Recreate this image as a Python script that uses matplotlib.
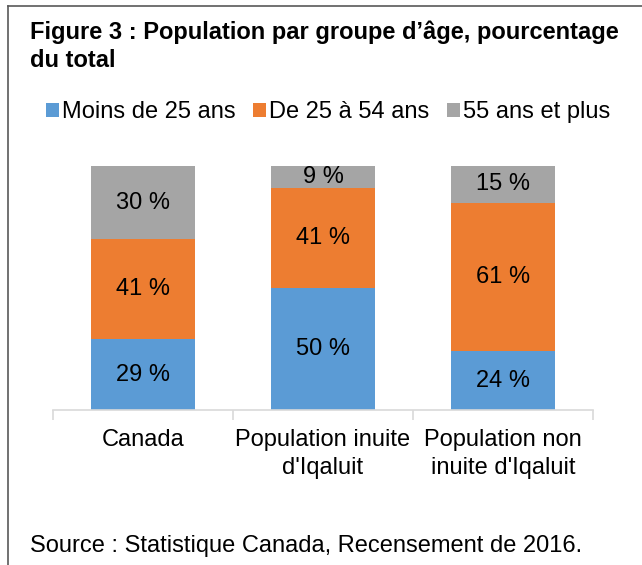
import matplotlib
matplotlib.use("Agg")
import matplotlib.pyplot as plt
from matplotlib.lines import Line2D
from matplotlib.patches import Patch

categories = ["Canada", "Population inuite\nd'Iqaluit", "Population non\ninuite d'Iqaluit"]
series_names = ["Moins de 25 ans", "De 25 à 54 ans", "55 ans et plus"]
moins_25 = [29, 50, 24]
de_25_54 = [41, 41, 61]
plus_55 = [30, 9, 15]
colors = ["#5B9BD5", "#ED7D31", "#A5A5A5"]

plt.rcParams['font.family'] = ['Liberation Sans', 'DejaVu Sans']
FS = 17

fig = plt.figure(figsize=(6.42, 5.65), dpi=100)
ax = fig.add_axes([53/642, 1-410/565, 540/642, 244/565])

x = list(range(len(categories)))
bottoms = [0]*len(categories)
for vals, col in zip([moins_25, de_25_54, plus_55], colors):
    ax.bar(x, vals, width=0.58, bottom=bottoms, color=col, zorder=2)
    for xi, v, b in zip(x, vals, bottoms):
        ax.text(xi, b + v/2, f"{v} %", ha='center', va='center', fontsize=FS, color='black')
    bottoms = [b + v for b, v in zip(bottoms, vals)]

ax.set_xlim(-0.5, 2.5)
ax.set_ylim(0, 100)
ax.set_yticks([])
for s in ['left', 'right', 'top']:
    ax.spines[s].set_visible(False)
ax.spines['bottom'].set_color('#D9D9D9')
ax.spines['bottom'].set_linewidth(1.2)
ax.set_xticks(x)
ax.set_xticklabels(categories, fontsize=FS, linespacing=1.3)
ax.tick_params(axis='x', which='major', length=0, pad=14)
ax.set_xticks([-0.5, 0.5, 1.5, 2.5], minor=True)
ax.tick_params(axis='x', which='minor', length=7, color='#D9D9D9', width=1.2)

fig.text(30/642, 1-46/565, "Figure 3 : Population par groupe d’âge, pourcentage\ndu total",
         fontsize=FS, fontweight='bold', ha='left', va='center', linespacing=1.3)

handles = [Patch(facecolor=c, edgecolor='none') for c in colors]
fig.legend(handles, series_names, loc='center', bbox_to_anchor=(328/642, 1-112/565),
           ncol=3, frameon=False, fontsize=FS, handlelength=0.55, handleheight=0.55,
           handletextpad=0.12, columnspacing=0.75, borderaxespad=0)

fig.text(30/642, 1-546/565, "Source : Statistique Canada, Recensement de 2016.",
         fontsize=FS, ha='left', va='center')

fig.add_artist(Line2D([8/642, 8/642], [0, 1-6/565], transform=fig.transFigure, color='#595959', lw=1.2))
fig.add_artist(Line2D([8/642, 1], [1-6/565, 1-6/565], transform=fig.transFigure, color='#595959', lw=1.2))

fig.savefig("out.png", dpi=100)
